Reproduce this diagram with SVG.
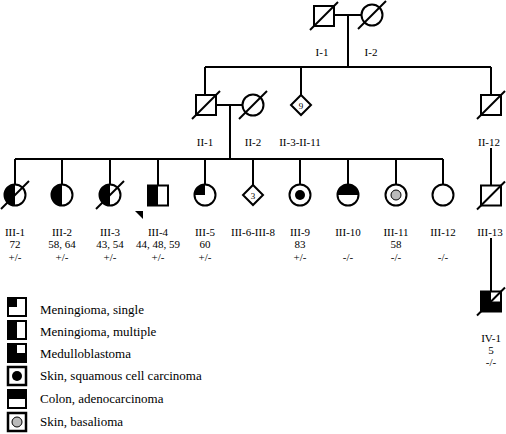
<svg xmlns="http://www.w3.org/2000/svg" width="506" height="434" viewBox="0 0 506 434">
<defs>
<style>
.s{fill:#fff;stroke:#000;stroke-width:2}
.f{fill:#000;stroke:none}
.d{stroke:#000;stroke-width:2;fill:none}
.ln{stroke:#000;stroke-width:2;fill:none}
text{font-family:"Liberation Serif","Times New Roman",serif;font-size:11px;fill:#000;text-anchor:middle}
.lg{font-size:13px;text-anchor:start}
.n{font-size:9px}
</style>
</defs>
<rect width="506" height="434" fill="#fff"/>
<g id="connectors" class="ln">
<path d="M334,15H362"/>
<path d="M348,15V67"/>
<path d="M205,67H491"/>
<path d="M205,67V95"/>
<path d="M301,67V95"/>
<path d="M491,67V95"/>
<path d="M216,105H243"/>
<path d="M230,105V159"/>
<path d="M15,159H443"/>
<path d="M15,159V184M62,159V184M110,159V184M158,159V185M205,159V184M253,159V185M300,159V184M348,159V184M396,159V184M443,159V184"/>
<path d="M491,148V185"/>
<path d="M491,238V291"/>
</g>
<g id="I-1" transform="translate(324,16)">
<rect class="s" x="-10" y="-10" width="20" height="20"/>
<path class="d" d="M-14,14L14,-14"/>
<text x="-2" y="40">I-1</text>
</g>
<g id="I-2" transform="translate(372,15)">
<circle class="s" r="10.5"/>
<path class="d" d="M-14,14L14,-14"/>
<text x="-1" y="41">I-2</text>
</g>
<g id="II-1" transform="translate(206,105)">
<rect class="s" x="-10" y="-10" width="20" height="20"/>
<path class="d" d="M-14,14L14,-14"/>
<text x="-1" y="41">II-1</text>
</g>
<g id="II-2" transform="translate(253,105)">
<circle class="s" r="10.5"/>
<path class="d" d="M-14,14L14,-14"/>
<text y="41">II-2</text>
</g>
<g id="II-3-II-11" transform="translate(301,105)">
<path class="s" d="M0,-10L10,0L0,10L-10,0Z"/>
<text class="n" y="3.5">9</text>
<text x="-1" y="41">II-3-II-11</text>
</g>
<g id="II-12" transform="translate(491,105)">
<rect class="s" x="-10" y="-10" width="20" height="20"/>
<path class="d" d="M-14,14L14,-14"/>
<text x="-2" y="41">II-12</text>
</g>
<g id="III-1" transform="translate(15,195)">
<circle class="s" r="10.5"/>
<path class="f" d="M0,-10.5A10.5,10.5 0 0 0 0,10.5Z"/>
<path class="d" d="M-14,14L14,-14"/>
<text y="41">III-1</text><text y="53">72</text><text y="66">+/-</text>
</g>
<g id="III-2" transform="translate(62,195)">
<circle class="s" r="10.5"/>
<path class="f" d="M0,-10.5A10.5,10.5 0 0 0 0,10.5Z"/>
<text y="41">III-2</text><text y="53">58, 64</text><text y="66">+/-</text>
</g>
<g id="III-3" transform="translate(110,195)">
<circle class="s" r="10.5"/>
<path class="f" d="M0,-10.5A10.5,10.5 0 0 0 0,10.5Z"/>
<path class="d" d="M-14,14L14,-14"/>
<text y="41">III-3</text><text y="53">43, 54</text><text y="66">+/-</text>
</g>
<g id="III-4" transform="translate(158,195.5)">
<rect class="s" x="-10" y="-10" width="20" height="20"/>
<rect class="f" x="-10" y="-10" width="10" height="20"/>
<path class="f" d="M-23,15.5H-15V23.5Z"/>
<text y="40.5">III-4</text><text y="52.5">44, 48, 59</text><text y="65.5">+/-</text>
</g>
<g id="III-5" transform="translate(205,195)">
<circle class="s" r="10.5"/>
<path class="f" d="M0,0V-10.5A10.5,10.5 0 0 0 -10.5,0Z"/>
<text y="41">III-5</text><text y="53">60</text><text y="66">+/-</text>
</g>
<g id="III-6-III-8" transform="translate(253,195)">
<path class="s" d="M0,-10L10,0L0,10L-10,0Z"/>
<text class="n" y="3.5">3</text>
<text y="41">III-6-III-8</text>
</g>
<g id="III-9" transform="translate(300,195)">
<circle class="s" r="10.5"/>
<circle class="f" r="5"/>
<text y="41">III-9</text><text y="53">83</text><text y="66">+/-</text>
</g>
<g id="III-10" transform="translate(348,195)">
<circle class="s" r="10.5"/>
<path class="f" d="M-10.5,0A10.5,10.5 0 0 1 10.5,0Z"/>
<text y="41">III-10</text><text y="66">-/-</text>
</g>
<g id="III-11" transform="translate(396,195)">
<circle class="s" r="10.5"/>
<circle r="5" fill="#bbb" stroke="#000" stroke-width="1"/>
<text y="41">III-11</text><text y="53">58</text><text y="66">-/-</text>
</g>
<g id="III-12" transform="translate(443,195)">
<circle class="s" r="10.5"/>
<text y="41">III-12</text><text y="66">-/-</text>
</g>
<g id="III-13" transform="translate(491,195.5)">
<rect class="s" x="-10" y="-10" width="20" height="20"/>
<path class="d" d="M-14,14L14,-14"/>
<text x="-1" y="40.5">III-13</text>
</g>
<g id="IV-1" transform="translate(491,301.5)">
<rect class="s" x="-10" y="-10" width="20" height="20" fill="#000" style="fill:#000"/>
<rect x="0" y="-9" width="9" height="9" fill="#fff"/>
<path class="d" d="M-14,14L14,-14"/>
<text y="40.5">IV-1</text><text y="52.5">5</text><text y="64.5">-/-</text>
</g>
<g id="legend">
<g transform="translate(17,307)">
<rect class="s" x="-9" y="-9" width="18" height="18"/>
<rect class="f" x="-9" y="-9" width="9" height="9"/>
</g>
<text class="lg" x="40" y="314">Meningioma, single</text>
<g transform="translate(17,330)">
<rect class="s" x="-9" y="-9" width="18" height="18"/>
<rect class="f" x="-9" y="-9" width="9" height="18"/>
</g>
<text class="lg" x="40" y="336">Meningioma, multiple</text>
<g transform="translate(17,353)">
<rect class="s" x="-9" y="-9" width="18" height="18" style="fill:#000"/>
<rect x="0" y="-8" width="8" height="8" fill="#fff"/>
</g>
<text class="lg" x="40" y="358">Medulloblastoma</text>
<g transform="translate(17,376)">
<rect class="s" x="-9" y="-9" width="18" height="18" style="stroke-width:2.5"/>
<circle class="f" r="5"/>
</g>
<text class="lg" x="40" y="380">Skin, squamous cell carcinoma</text>
<g transform="translate(17,399)">
<rect class="s" x="-9" y="-9" width="18" height="18"/>
<rect class="f" x="-9" y="-9" width="18" height="9"/>
</g>
<text class="lg" x="40" y="403">Colon, adenocarcinoma</text>
<g transform="translate(17,422)">
<rect class="s" x="-9" y="-9" width="18" height="18" style="stroke-width:2.5"/>
<circle r="5" fill="#bbb" stroke="#000" stroke-width="1"/>
</g>
<text class="lg" x="40" y="426">Skin, basalioma</text>
</g>
</svg>
